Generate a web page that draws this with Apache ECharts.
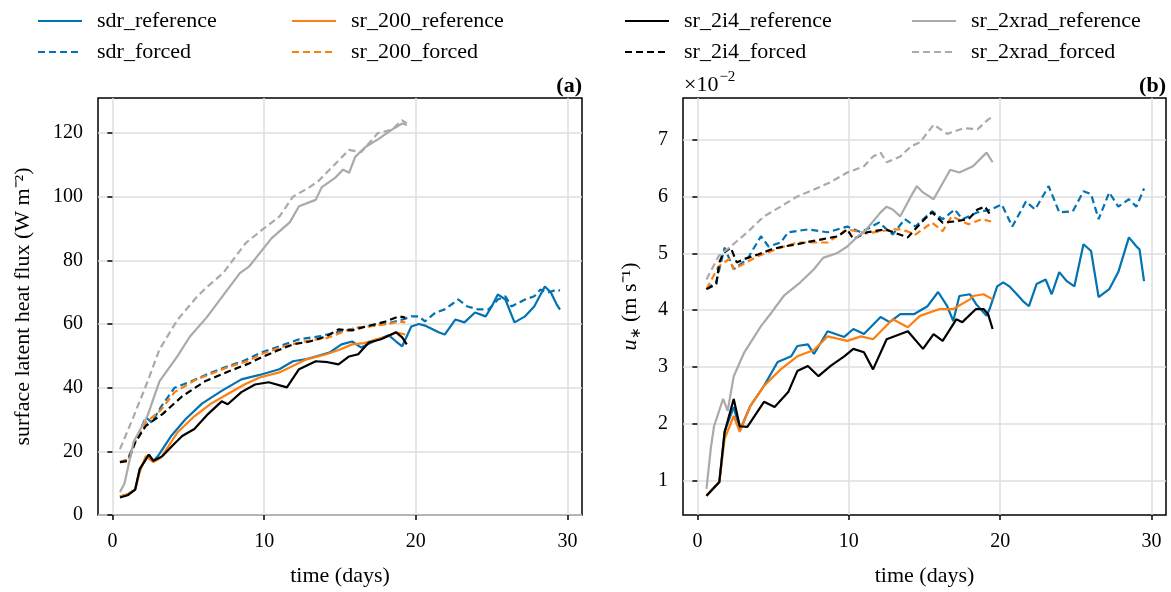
<!DOCTYPE html>
<html><head><meta charset="utf-8">
<script src="https://cdn.jsdelivr.net/npm/echarts@6/dist/echarts.min.js"></script>
<style>html,body{margin:0;padding:0;background:#fff}#c{width:1171px;height:592px}</style>
</head><body><div id="c"></div>
<script>
// ---------- tick labels ----------
const xTicks = [0, 10, 20, 30];
const yTicksA = [0, 20, 40, 60, 80, 100, 120];
const yTicksB = [1, 2, 3, 4, 5, 6, 7];

// ---------- series names ----------
const refNames = ['sdr_reference', 'sr_200_reference', 'sr_2i4_reference', 'sr_2xrad_reference'];
const forcedNames = ['sdr_forced', 'sr_200_forced', 'sr_2i4_forced', 'sr_2xrad_forced'];

// ---------- panel (a): surface latent heat flux (W m^-2) ----------
const aSdrRefT = [0.5,1.0,1.5,1.8,2.4,2.7,3.0,3.9,4.8,5.9,7.2,8.5,9.7,11.0,11.9,12.8,13.4,14.3,15.1,15.8,16.4,17.4,18.2,18.7,19.1,19.7,20.2,20.6,21.5,21.9,22.6,23.2,23.9,24.6,25.0,25.4,25.9,26.5,27.2,27.8,28.5,28.9,29.3,29.5];
const aSdrRefY = [5.8,6.5,8,14.4,19,17,18.5,25,30,35,39,42.6,44,45.8,48.3,49,49.8,51,53.6,54.5,52.6,55,56.5,54.5,53,59.2,60,59.5,57.4,56.7,61.4,60.5,63.6,62.4,65.5,69.3,67.7,60.5,62.4,65.5,71.8,69.9,66,64.5];
const aSdrForT = [0.5,1.0,1.5,2.2,2.6,3.2,4.1,5.2,6.4,7.6,8.7,9.8,11.0,12.3,13.6,14.9,16.2,17.3,18.4,19.2,19.7,20.2,20.6,21.3,21.9,22.8,23.4,24.1,24.8,25.4,25.9,26.3,27.2,27.8,28.2,28.7,29.3,29.5];
const aSdrForY = [16.6,17.5,23,30.7,29,34,40,42,44.5,46.7,48.5,51,53,55.2,56.1,57.5,58.9,59.5,60.5,61.5,62.4,62.4,60.8,63.6,64.6,67.7,65.5,64.6,64.6,67.7,68.7,65.5,67.7,68.7,70.8,69.9,70.8,70.5];
const a200RefT = [0.5,1.0,1.5,1.8,2.2,2.7,3.2,4.3,5.4,6.5,7.6,8.7,9.7,11.0,12.8,14.1,15.0,15.8,16.6,17.4,18.1,18.7,19.3];
const a200RefY = [5.8,6.5,8,13.5,18.5,16.6,18,26,31,35,38,41,43.2,44.8,48.9,50.5,52,53.6,54,55.2,56,57.4,56.7];
const a200ForT = [0.5,1.05,1.5,2.2,3.2,4.1,5.5,7.6,9.0,9.8,11.0,12.3,13.2,14.1,15.2,16.2,17.3,18.2,18.9,19.3];
const a200ForY = [16.6,17.5,23,29,33,38.6,42.5,46.4,48.5,50.5,52.5,54.2,55,55.5,57.5,58.9,59.5,60,60.8,60.5];
const a2i4RefT = [0.5,1.0,1.5,1.8,2.4,2.7,3.3,4.0,4.6,5.4,6.3,7.2,7.6,8.5,9.4,10.3,11.5,12.3,13.4,14.2,14.9,15.6,16.2,16.9,17.7,18.7,19.1,19.4];
const a2i4RefY = [5.5,6.2,8,14.4,19,17,18.5,22,24.8,27,31.7,35.7,34.8,38.6,41,41.7,40.1,45.8,48.3,48,47.3,49.8,50.5,54.2,55.2,57.4,55.8,53.6];
const a2i4ForT = [0.5,1.05,1.5,2.2,3.3,4.6,6.1,7.6,9.0,9.8,10.8,11.9,13.0,14.1,14.9,15.8,16.7,17.4,18.0,18.9,19.3];
const a2i4ForY = [16.6,17,22.8,28,31.7,37.3,42,45,47.6,49.5,51.5,53.6,54.5,56.1,58.3,58,59.2,60,60.8,62.4,62];
const a2xRefT = [0.5,0.8,1.4,2.3,3.1,4.3,5.1,6.2,7.3,8.4,9.0,9.5,10.5,11.7,12.3,13.4,13.8,14.7,15.2,15.6,16.0,16.7,17.5,18.4,19.1,19.4];
const a2xRefY = [7.2,10,23,31,42,50,56,62,69,76,78,81,87,92,97,99,103,106,108.5,107.5,112.5,115.7,118,121,123,122.5];
const a2xForT = [0.5,1.4,2.3,3.1,4.3,5.6,6.2,7.3,8.4,8.8,9.9,11.0,11.9,13.0,13.6,14.5,15.6,16.4,17.5,18.4,19.1,19.4];
const a2xForY = [20.7,31,41.7,52,61.4,68.7,71.5,76,83,85.5,89.7,93.7,100,103,105,109.4,114.7,114,120,121,124,123];

// ---------- panel (b): u* (x 10^-2 m s^-1) ----------
const bSdrRefT = [0.6,1.45,1.8,2.4,2.8,3.5,4.4,5.3,6.2,6.6,7.3,7.7,8.6,9.7,10.3,11.0,12.1,12.7,13.4,14.3,15.2,15.9,16.5,16.9,17.3,18.0,18.4,19.1,19.3,19.8,20.2,20.6,21.1,21.5,21.9,22.4,23.0,23.4,23.9,24.4,24.9,25.5,26.0,26.5,27.2,27.8,28.5,29.0,29.2,29.5];
const bSdrRefY = [0.74,0.98,1.86,2.3,1.88,2.32,2.67,3.09,3.19,3.37,3.4,3.23,3.63,3.53,3.67,3.58,3.88,3.79,3.93,3.93,4.07,4.32,4.07,3.81,4.25,4.28,4.11,3.9,4.02,4.42,4.49,4.42,4.28,4.16,4.07,4.46,4.54,4.28,4.67,4.51,4.42,5.16,5.04,4.23,4.37,4.67,5.28,5.12,5.07,4.51];
const bSdrForT = [0.6,1.25,1.8,2.4,3.3,4.2,4.7,5.5,6.0,7.3,8.6,9.9,10.8,12.0,12.9,13.7,14.4,15.5,16.2,17.0,17.5,18.5,19.4,20.1,20.8,21.7,22.3,23.2,23.9,24.8,25.5,26.0,26.5,27.2,27.8,28.5,29.0,29.5];
const bSdrForY = [4.37,4.5,5.1,4.72,4.9,5.3,5.12,5.19,5.37,5.42,5.37,5.47,5.37,5.54,5.33,5.6,5.47,5.74,5.6,5.77,5.6,5.72,5.77,5.86,5.47,5.91,5.77,6.18,5.72,5.74,6.09,6.04,5.6,6.07,5.82,5.95,5.82,6.14];
const b200RefT = [0.6,1.45,1.8,2.4,2.8,3.5,4.4,5.5,6.6,7.7,8.6,9.9,10.8,11.6,12.9,13.9,14.7,16.0,16.9,18.0,18.2,18.9,19.5];
const b200RefY = [0.74,0.98,1.74,2.14,1.86,2.32,2.67,2.96,3.19,3.3,3.54,3.46,3.54,3.49,3.84,3.7,3.9,4.02,4.02,4.19,4.25,4.28,4.19];
const b200ForT = [0.6,1.4,2.1,2.4,4.0,5.5,6.6,8.6,9.9,11.2,12.9,13.5,14.4,15.5,16.2,16.8,17.9,18.8,19.4];
const b200ForY = [4.37,4.77,4.9,4.72,4.95,5.1,5.19,5.19,5.42,5.35,5.42,5.42,5.33,5.54,5.39,5.65,5.51,5.6,5.56];
const b2i4RefT = [0.6,1.45,1.8,2.4,2.8,3.3,4.4,5.1,6.0,6.6,7.3,8.0,8.8,9.7,10.3,11.0,11.6,12.5,13.9,14.9,15.6,16.2,17.1,17.5,18.4,18.9,19.2,19.5];
const b2i4RefY = [0.74,0.98,1.86,2.44,1.96,1.95,2.39,2.3,2.56,2.93,3.02,2.84,3.02,3.19,3.32,3.26,2.96,3.49,3.63,3.32,3.58,3.46,3.84,3.79,4.02,4.02,3.93,3.67];
const b2i4ForT = [0.6,1.25,1.45,1.7,2.2,2.6,3.1,4.0,4.9,5.7,6.6,7.5,8.3,9.3,9.9,10.3,11.2,12.4,13.9,14.2,15.0,15.5,16.2,17.0,17.9,18.5,19.0,19.4];
const b2i4ForY = [4.37,4.46,4.84,5.0,5.1,4.84,4.9,4.98,5.07,5.12,5.16,5.21,5.25,5.3,5.42,5.25,5.37,5.42,5.28,5.37,5.6,5.72,5.54,5.56,5.6,5.77,5.82,5.65];
const b2xRefT = [0.6,0.9,1.1,1.7,2.0,2.4,3.1,4.2,4.9,5.7,6.8,7.7,8.3,9.2,9.9,10.6,11.0,12.1,12.5,12.9,13.4,14.1,14.5,14.9,15.6,16.7,17.3,18.2,19.1,19.5];
const b2xRefY = [0.86,1.6,1.96,2.44,2.23,2.84,3.26,3.72,3.96,4.25,4.49,4.72,4.92,5.0,5.12,5.3,5.37,5.72,5.82,5.77,5.65,6.0,6.18,6.07,5.95,6.47,6.42,6.53,6.77,6.6];
const b2xForT = [0.6,1.4,2.2,3.3,4.4,5.5,6.6,7.7,8.8,9.9,11.0,11.6,12.1,12.5,13.4,14.1,14.7,15.6,16.5,17.6,18.5,19.2,19.5];
const b2xForY = [4.54,4.95,5.12,5.37,5.65,5.82,6.0,6.12,6.25,6.42,6.53,6.7,6.77,6.6,6.7,6.88,6.95,7.26,7.1,7.2,7.18,7.35,7.4];

// ---------- styling ----------
const colors = ['#0173b2', '#ff7f0e', '#000000', '#aaaaaa'];
const FONT = 'Liberation Serif';
const gridA = {left: 98, top: 98, width: 484, height: 418};
const gridB = {left: 683, top: 98, width: 483, height: 418};

function pairs(t, y) { return t.map((v, i) => [v, y[i]]); }
function mk(name, t, y, color, dashed, idx) {
  return {
    name, type: 'line', xAxisIndex: idx, yAxisIndex: idx,
    data: pairs(t, y), symbol: 'none', showSymbol: false, smooth: false,
    lineStyle: {color, width: 2.2, type: dashed ? [7, 4] : 'solid', cap: 'butt'},
    itemStyle: {color}, animation: false, silent: true, clip: true
  };
}
const panelA = [[aSdrRefT,aSdrRefY,aSdrForT,aSdrForY],[a200RefT,a200RefY,a200ForT,a200ForY],[a2i4RefT,a2i4RefY,a2i4ForT,a2i4ForY],[a2xRefT,a2xRefY,a2xForT,a2xForY]];
const panelB = [[bSdrRefT,bSdrRefY,bSdrForT,bSdrForY],[b200RefT,b200RefY,b200ForT,b200ForY],[b2i4RefT,b2i4RefY,b2i4ForT,b2i4ForY],[b2xRefT,b2xRefY,b2xForT,b2xForY]];
const series = [];
[panelA, panelB].forEach((panel, idx) => {
  panel.forEach((d, k) => {
    series.push(mk(refNames[k], d[0], d[1], colors[k], false, idx));
    series.push(mk(forcedNames[k], d[2], d[3], colors[k], true, idx));
  });
});

function xAxis(gi) {
  return {
    type: 'value', gridIndex: gi, min: -0.95, max: 30.95,
    name: 'time (days)', nameLocation: 'middle', nameGap: 50,
    nameTextStyle: {fontFamily: FONT, fontSize: 22, color: '#000'},
    axisLine: {show: false},
    axisTick: {show: true, inside: false, length: 5, lineStyle: {color: '#000', width: 1.5}, customValues: xTicks},
    axisLabel: {fontFamily: FONT, fontSize: 20, color: '#000', margin: 17, customValues: xTicks},
    splitLine: {show: true, lineStyle: {color: '#dedede', width: 1.5}}
  };
}
function yAxis(gi, mn, mx, ticks, name, gap) {
  return {
    type: 'value', gridIndex: gi, min: mn, max: mx,
    name, nameLocation: 'middle', nameGap: gap, nameRotate: 90,
    nameTextStyle: {fontFamily: FONT, fontSize: 22, color: '#000', rich: {
      it: {fontFamily: FONT, fontSize: 22, fontStyle: 'italic'},
      sb: {fontFamily: FONT, fontSize: 14, padding: [11, 0, 0, 0]}
    }},
    axisLine: {show: false},
    axisTick: {show: true, inside: false, length: 5, lineStyle: {color: '#000', width: 1.5}, customValues: ticks},
    axisLabel: {fontFamily: FONT, fontSize: 20, color: '#000', margin: 15, customValues: ticks},
    splitLine: {show: true, lineStyle: {color: '#dedede', width: 1.5}}
  };
}

const legendLefts = [32, 286, 619, 906];
const legends = refNames.map((n, i) => ({
  orient: 'vertical', left: legendLefts[i], top: 5, itemGap: 9,
  itemWidth: 44, itemHeight: 14, selectedMode: false,
  itemStyle: {opacity: 0},
  data: [refNames[i], forcedNames[i]],
  textStyle: {fontFamily: FONT, fontSize: 22, color: '#000', padding: [0, 0, 0, 10]}
}));

const chart = echarts.init(document.getElementById('c'), null, {renderer: 'canvas'});
chart.setOption({
  backgroundColor: '#fff',
  animation: false,
  grid: [
    Object.assign({show: true, borderColor: '#000', borderWidth: 1.5, backgroundColor: '#fff'}, gridA),
    Object.assign({show: true, borderColor: '#000', borderWidth: 1.5, backgroundColor: '#fff'}, gridB)
  ],
  xAxis: [xAxis(0), xAxis(1)],
  yAxis: [
    yAxis(0, 0, 131, yTicksA, 'surface latent heat flux (W m⁻²)', 64),
    yAxis(1, 0.40, 7.73, yTicksB, '{it|u}{sb|∗} (m s⁻¹)', 40)
  ],
  legend: legends,
  series,
  graphic: [
    {type: 'text', right: 589, top: 75, style: {text: '(a)', font: 'bold 22px "Liberation Serif"', fill: '#000'}},
    {type: 'text', right: 5, top: 75, style: {text: '(b)', font: 'bold 22px "Liberation Serif"', fill: '#000'}},
    {type: 'text', left: 684, top: 70, style: {
      text: '{m|×10}{e|−2}', fill: '#000',
      rich: {m: {fontFamily: FONT, fontSize: 22, padding: [7, 0, 0, 0]}, e: {fontFamily: FONT, fontSize: 15, padding: [0, 0, 9, 1]}}
    }}
  ]
});
</script>
</body></html>
